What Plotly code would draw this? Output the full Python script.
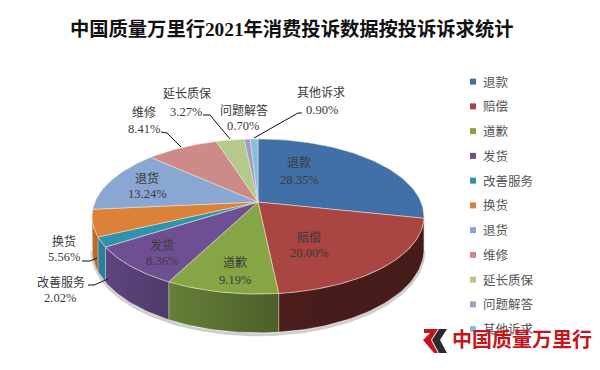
import math
import plotly.graph_objects as go

TITLE = "中国质量万里行2021年消费投诉数据按投诉诉求统计"
categories = ["退款", "赔偿", "道歉", "发货", "改善服务", "换货", "退货", "维修", "延长质保", "问题解答", "其他诉求"]
shares = [28.35, 20.00, 9.19, 8.36, 2.02, 5.56, 13.24, 8.41, 3.27, 0.70, 0.90]
top_colors = ["#4170a9", "#a94542", "#86a544", "#6f4f93", "#2f93ad", "#dc8238", "#8aa6d2", "#cc8a88", "#b4c98c", "#a49bc4", "#85bfdb"]
side_colors = [("#2c4a70", "#2c4a70"), ("#4a1d1b", "#451b19"), ("#667f38", "#4d5f2b"), ("#5f4580", "#4f3a6a"),
               ("#2a8098", "#2a8098"), ("#c06f2a", "#b5672a"), ("#5c7db0", "#5c7db0"), ("#a06664", "#a06664"),
               ("#8ba06a", "#8ba06a"), ("#7c739c", "#7c739c"), ("#5f9cb8", "#5f9cb8")]

# Projection of the tilted disc
CX, CY, AX, AY, K, DEPTH = 258, 202, 163, 74.8, 0.187, 31.5

def project(theta, drop=0.0):
    u, v = math.sin(theta), math.cos(theta)
    s = 1 / (1 + K * v)
    return CX + AX * u * s, CY - AY * v * s + drop * s

def arc(a, b, drop=0.0):
    n = max(2, int(abs(b - a) / math.radians(1.5)) + 2)
    pts = [project(a + (b - a) * i / (n - 1), drop) for i in range(n)]
    return [p[0] for p in pts], [p[1] for p in pts]

fig = go.Figure()
total = sum(shares)
edges = [0.0]
for value in shares:
    edges.append(edges[-1] + value / total * 2 * math.pi)

vis_right = math.acos(-K)
vis_left = 2 * math.pi - vis_right

# soft shadow under the drum
sx, sy = arc(vis_right, vis_left, DEPTH)
fig.add_trace(go.Scatter(x=sx, y=[v + 2 for v in sy], mode="lines", line=dict(color="#cfcfcf", width=3),
                         showlegend=False, hoverinfo="skip"))

# side walls
for i in range(len(shares)):
    a, b = max(edges[i], vis_right), min(edges[i + 1], vis_left)
    if b <= a:
        continue
    x1, y1 = arc(a, b)
    x2, y2 = arc(b, a, DEPTH)
    fig.add_trace(go.Scatter(
        x=x1 + x2 + x1[:1], y=y1 + y2 + y1[:1], mode="lines", fill="toself",
        fillgradient=dict(type="horizontal", colorscale=[[0, side_colors[i][0]], [1, side_colors[i][1]]]),
        line=dict(color="rgba(225,220,200,0.55)", width=0.7), showlegend=False, hoverinfo="skip"))

# top faces
for i in range(len(shares)):
    xs, ys = arc(edges[i], edges[i + 1])
    fig.add_trace(go.Scatter(
        x=[CX] + xs + [CX], y=[CY] + ys + [CY], mode="lines", fill="toself", fillcolor=top_colors[i],
        line=dict(color="rgba(240,232,215,0.75)", width=0.7), showlegend=False, hoverinfo="skip",
        name=categories[i]))

# legend entries
for name, color in zip(categories, top_colors):
    fig.add_trace(go.Scatter(x=[None], y=[None], mode="markers", name=name, legendgroup=name,
                             marker=dict(symbol="square", size=6, color=color)))

# leader lines
leaders = [
    ([302, 298, 254], [113, 113, 138]),
    ([203, 210, 230], [115, 115, 139]),
    ([161, 167, 181], [132, 133, 147]),
    ([82, 90, 97], [261, 261, 258]),
    ([88, 94, 108], [285, 285, 279]),
]
for lx, ly in leaders:
    fig.add_trace(go.Scatter(x=lx, y=ly, mode="lines", line=dict(color="#111111", width=1),
                             showlegend=False, hoverinfo="skip"))

# (x, y of name, y of percentage, x of percentage)
label_pos = [(299, 163, 180, 299), (309, 237, 253, 309), (235, 263, 280, 235), (162, 245, 261, 162),
             (61, 282, 298, 60), (64, 241, 257, 64), (147, 178, 194, 147), (144, 112, 129, 144),
             (187, 94, 112, 186), (244, 110, 126, 243), (321, 93, 110, 322)]
FONT = "Liberation Serif, Noto Sans CJK SC"
anns = []
for name, value, (x, y1, y2, x2) in zip(categories, shares, label_pos):
    anns.append(dict(x=x, y=y1, text=name, showarrow=False, font=dict(family=FONT, size=12, color="#3a3a3a")))
    anns.append(dict(x=x2, y=y2, text=f"{value:.2f}%", showarrow=False, font=dict(family=FONT, size=12.5, color="#3a3a3a")))

anns.append(dict(x=291, y=29, text=TITLE, showarrow=False, font=dict(family=FONT, size=19.3, color="#111111", weight="bold")))
anns.append(dict(x=522, y=340, text="中国质量万里行", showarrow=False, font=dict(family=FONT, size=20, color="#c3161c", weight="bold")))

shapes = [
    dict(type="path", path="M424,329 L438,329 L431,340 L438,353 L434,353 L423,340 L430,333 L424,333 Z",
         fillcolor="#c3161c", line_width=0, layer="above"),
    dict(type="path", path="M439,329 L447,329 L440,340 L447,353 L439,353 L432,340 Z",
         fillcolor="#2b2b2b", line_width=0, layer="above"),
]

fig.update_layout(
    width=600, height=370, margin=dict(l=0, r=0, t=0, b=0), paper_bgcolor="white", plot_bgcolor="white",
    xaxis=dict(range=[0, 600], visible=False, fixedrange=True),
    yaxis=dict(range=[370, 0], visible=False, fixedrange=True),
    annotations=anns, shapes=shapes, showlegend=True,
    legend=dict(x=443 / 600, y=1 - 67 / 370, xanchor="left", yanchor="top",
                font=dict(family=FONT, size=12.5, color="#555555"), tracegroupgap=5.5,
                itemwidth=30, bgcolor="rgba(0,0,0,0)"),
)
POST = """
document.documentElement.style.overflow='hidden';
document.body.style.margin='0';
document.querySelectorAll('.legendsymbols').forEach(function(n){n.setAttribute('transform','translate(10,0)');});
"""
fig.write_html("out.html", post_script=POST, config={"displayModeBar": False})
